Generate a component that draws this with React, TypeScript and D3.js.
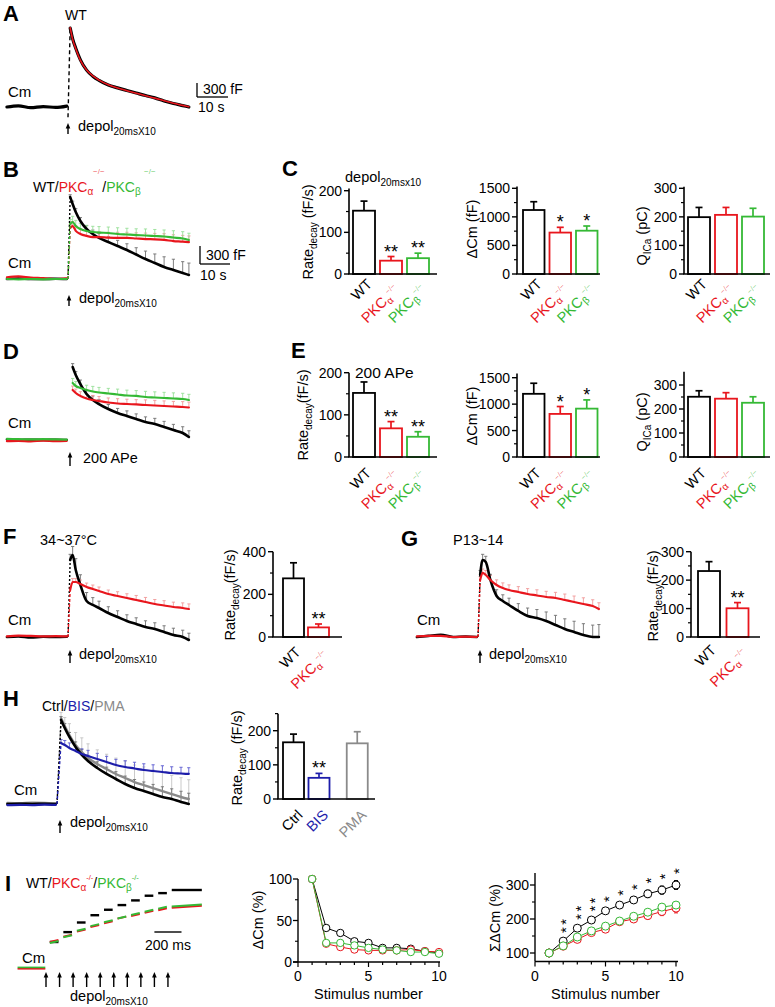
import React from "react";
import * as d3 from "d3";

const FONT = "'Liberation Sans', Arial, Helvetica, sans-serif";
const BLACK = "#000";
const RED = "#e8161d";
const GREEN = "#35b935";
const BLUE = "#1d1daa";
const GRAY = "#8a8a8a";
const ERR_BLACK = "#707070";
const ERR_RED = "#f09a9a";
const ERR_GREEN = "#98e098";
const ERR_GRAY = "#c4c4c4";
const ERR_BLUE = "#5a5ad0";

// ---------------- trace data (time in s, capacitance in fF) ----------------
const tBase = [-19.7, -16, -12, -8, -4, -0.4];
const tBaseH = [-16, -12, -8, -4, -0.4];
const tDec = [0.7, 1.5, 2.5, 4, 6, 8, 10, 13, 16, 19, 22, 25, 28, 31, 34, 37, 39];
const tDecD = [1.5, 2.5, 4, 6, 8, 10, 13, 16, 19, 22, 25, 28, 31, 34, 37, 39];
const tDecH = [1.3, 2.5, 4, 6, 8, 10, 13, 16, 19, 22, 25, 28, 31, 34, 37, 40, 42.5];

// A
const aBase = [0, 25, -15, 10, -10, 20];
const aWT = [1690, 1460, 1260, 1010, 790, 660, 570, 470, 410, 355, 300, 245, 195, 130, 75, 30, 0];
const aFit = [1700, 1450, 1250, 1000, 795, 665, 575, 475, 405, 350, 295, 240, 190, 135, 80, 35, 5];

// B
const bBaseWT = [0, 10, 0, 0, 5, 0];
const bBaseA = [30, 45, 25, 15, 0, 10];
const bBaseB = [0, -5, 0, -5, 0, 0];
const bWT = [1447, 1324, 1182, 1024, 882, 794, 724, 653, 582, 512, 432, 353, 282, 212, 159, 106, 71];
const bWTerr = [40, 50, 60, 60, 60, 70, 80, 90, 100, 110, 120, 140, 160, 180, 190, 200, 210];
const bA = [900, 935, 850, 795, 760, 740, 740, 730, 725, 725, 715, 705, 700, 690, 670, 660, 650];
const bAerr = [60, 80, 90, 90, 90, 90, 95, 95, 100, 100, 100, 105, 105, 110, 110, 110, 110];
const bB = [970, 1006, 935, 882, 847, 830, 820, 812, 794, 785, 776, 768, 759, 750, 732, 715, 688];
const bBerr = [80, 100, 100, 100, 100, 100, 105, 105, 110, 110, 110, 115, 115, 115, 120, 120, 120];

// D
const dBaseWT = [10, 0, 5, 0, 5, 0];
const dBaseA = [-20, -15, -25, -10, -20, -15];
const dBaseB = [20, 15, 10, 15, 10, 5];
const dWT = [1288, 1147, 988, 812, 706, 635, 547, 477, 424, 371, 318, 282, 229, 176, 124, 53];
const dWTerr = [60, 60, 70, 70, 70, 80, 80, 80, 90, 90, 90, 100, 100, 100, 110, 110];
const dA = [882, 829, 777, 732, 706, 688, 662, 644, 635, 627, 618, 609, 600, 591, 582, 574];
const dAerr = [70, 70, 75, 75, 80, 80, 80, 85, 85, 85, 90, 90, 90, 90, 95, 95];
const dB = [1006, 953, 918, 882, 856, 838, 821, 803, 785, 777, 759, 750, 741, 732, 724, 706];
const dBerr = [80, 80, 85, 85, 90, 90, 90, 95, 95, 95, 100, 100, 100, 100, 100, 100];

// F
const fBaseWT = [0, 10, -10, 5, 0, 5];
const fBaseA = [10, 25, 20, 10, 15, 10];
const fWT = [1359, 1447, 1183, 918, 635, 565, 512, 424, 353, 282, 229, 176, 141, 88, 35, 0, -53];
const fWTerr = [100, 150, 200, 180, 150, 130, 120, 110, 110, 110, 110, 110, 110, 110, 120, 120, 120];
const fA = [830, 971, 971, 935, 882, 847, 812, 759, 724, 688, 653, 618, 582, 556, 530, 512, 494];
const fAerr = [50, 60, 60, 70, 70, 70, 70, 70, 75, 75, 80, 80, 80, 85, 85, 90, 90];

// G
const gBaseWT = [0, 20, 40, 0, 10, 0];
const gBaseA = [10, 20, 20, 0, 5, 0];
const gWT = [1094, 1359, 1324, 1006, 724, 635, 565, 459, 371, 335, 282, 212, 141, 88, 35, 0, 0];
const gWTerr = [80, 100, 100, 100, 110, 110, 120, 130, 140, 150, 160, 170, 180, 190, 200, 210, 220];
const gA = [1006, 1130, 1094, 1006, 918, 865, 830, 794, 759, 733, 706, 688, 653, 618, 582, 547, 494];
const gAerr = [60, 70, 80, 80, 90, 90, 90, 95, 95, 100, 100, 100, 105, 105, 110, 110, 110];

// H
const hBaseCtrl = [0, 5, 0, 5, 0];
const hBaseBIS = [-20, -15, -20, -10, -15];
const hBasePMA = [20, 15, 25, 20, 10];
const hCtrl = [1483, 1341, 1183, 1006, 865, 759, 635, 530, 441, 353, 282, 229, 176, 124, 88, 35, 0];
const hCtrlErr = [60, 80, 80, 90, 100, 100, 110, 120, 130, 140, 150, 160, 170, 180, 180, 190, 190];
const hPMA = [1518, 1377, 1218, 1041, 918, 812, 706, 618, 530, 459, 388, 335, 282, 229, 176, 124, 88];
const hPMAerr = [100, 150, 200, 220, 250, 250, 250, 260, 280, 300, 300, 320, 320, 330, 330, 340, 340];
const hBIS = [1077, 1041, 988, 935, 882, 847, 794, 741, 688, 653, 627, 600, 582, 565, 547, 538, 530];
const hBISerr = [60, 80, 90, 90, 90, 100, 100, 100, 100, 110, 110, 110, 110, 110, 110, 110, 110];

// ---------------- bar data ----------------
type Lab = { text: string; color: string; sub?: string; sup?: string; wt?: boolean };
const genoLabels: Lab[] = [
  { text: "WT", color: BLACK, wt: true },
  { text: "PKC", sub: "α", sup: "−/−", color: RED },
  { text: "PKC", sub: "β", sup: "−/−", color: GREEN },
];
const genoColors = [BLACK, RED, GREEN];
const twoLabels: Lab[] = [
  { text: "WT", color: BLACK, wt: true },
  { text: "PKC", sub: "α", sup: "−/−", color: RED },
];
const twoColors = [BLACK, RED];
const drugLabels: Lab[] = [
  { text: "Ctrl", color: BLACK, wt: true },
  { text: "BIS", color: BLUE, wt: true },
  { text: "PMA", color: GRAY, wt: true },
];
const drugColors = [BLACK, BLUE, GRAY];

const cRate = [152, 32, 38];
const cRateErr = [23, 10, 12];
const cRateSig = ["", "**", "**"];
const cDcm = [1120, 725, 758];
const cDcmErr = [145, 92, 82];
const cDcmSig = ["", "*", "*"];
const cQ = [199, 207, 201];
const cQErr = [34, 26, 29];
const eRate = [152, 68, 48];
const eRateErr = [26, 16, 12];
const eRateSig = ["", "**", "**"];
const eDcm = [1195, 815, 915];
const eDcmErr = [200, 140, 165];
const eDcmSig = ["", "*", "*"];
const eQ = [251, 243, 226];
const eQErr = [25, 25, 25];
const noSig = ["", "", ""];
const fRate = [275, 45];
const fRateErr = [73, 16];
const fRateSig = ["", "**"];
const gRate = [232, 101];
const gRateErr = [33, 20];
const gRateSig = ["", "**"];
const hRate = [166, 62, 163];
const hRateErr = [24, 13, 34];
const hRateSig = ["", "**", ""];

const ticks200 = [0, 100, 200];
const minor200 = [50, 150];
const ticks1500 = [0, 500, 1000, 1500];
const minor1500 = [250, 750, 1250];
const ticks300 = [0, 100, 200, 300];
const minor300 = [50, 150, 250];
const ticks400 = [0, 200, 400];
const minor400 = [100, 300];
const minorH = [50, 150, 250];

// ---------------- panel I data ----------------
const stimNo = [1, 2, 3, 4, 5, 6, 7, 8, 9, 10];
const stimMs = [0, 100, 200, 300, 400, 500, 600, 700, 800, 900];
const iTraceWT = [100, 138, 175, 203, 224, 242, 260, 278, 288, 300];
const iTraceA = [100, 120, 140, 158, 172, 190, 200, 212, 222, 232];
const iTraceB = [100, 122, 147, 165, 180, 194, 208, 220, 232, 240];

const dcmWT = [100, 41, 35, 25, 23, 17, 17, 16, 13, 11];
const dcmA = [100, 22, 18, 15, 14, 14, 14, 15, 13, 12];
const dcmB = [100, 23, 23, 20, 17, 15, 14, 12, 12, 10];

const sumWT = [100, 135, 173, 197, 224, 241, 256, 274, 285, 300];
const sumWTerr = [0, 5, 6, 6, 7, 8, 10, 11, 12, 13];
const sumA = [100, 120, 140, 160, 170, 192, 200, 210, 222, 232];
const sumAerr = [0, 4, 5, 6, 7, 7, 9, 10, 12, 14];
const sumB = [100, 121, 147, 165, 179, 194, 208, 220, 235, 241];
const sumBerr = [0, 3, 4, 5, 5, 6, 7, 8, 9, 10];
const sumSig = ["", "**", "**", "**", "*", "*", "*", "*", "*", "*"];

// ---------------- helpers ----------------
type Scales = { x: d3.ScaleLinear<number, number>; y: d3.ScaleLinear<number, number> };

function traceScales(x0: number, baseY: number, pxPer300: number): Scales {
  const x = d3.scaleLinear().domain([0, 10]).range([x0, x0 + 31]);
  const y = d3.scaleLinear().domain([0, 300]).range([baseY, baseY - pxPer300]);
  return { x, y };
}

function pathOf(t: number[], v: number[], s: Scales) {
  const pts = t.map((tt, i) => [s.x(tt), s.y(v[i])] as [number, number]);
  return d3.line().curve(d3.curveMonotoneX)(pts) || "";
}

type TraceItem = {
  tb?: number[];
  vb?: number[];
  t: number[];
  v: number[];
  e?: number[];
  color: string;
  errColor?: string;
  w?: number;
  rise?: boolean;
  riseFrom?: number;
  riseDash?: string;
};

function TraceSet({ s, items }: { s: Scales; items: TraceItem[] }) {
  return (
    <g>
      {items.map((it, i) =>
        it.e ? (
          <g key={"e" + i} stroke={it.errColor} strokeWidth={0.9}>
            {it.t.map((tt, j) => {
              const px = s.x(tt);
              const y0 = s.y(it.v[j]);
              const y1 = s.y(it.v[j] + it.e![j]);
              return (
                <g key={j}>
                  <line x1={px} x2={px} y1={y0} y2={y1} />
                  <line x1={px - 1.6} x2={px + 1.6} y1={y1} y2={y1} />
                </g>
              );
            })}
          </g>
        ) : null
      )}
      {items.map((it, i) => (
        <g key={"l" + i} fill="none" stroke={it.color} strokeLinejoin="round" strokeLinecap="round">
          {it.tb && it.vb && <path d={pathOf(it.tb, it.vb, s)} strokeWidth={it.w ?? 2.4} />}
          {it.rise && (
            <line
              x1={s.x(0)}
              y1={s.y(it.riseFrom ?? 0)}
              x2={s.x(it.t[0])}
              y2={s.y(it.v[0])}
              strokeWidth={1.4}
              strokeDasharray={it.riseDash ?? "3,2"}
              strokeLinecap="butt"
            />
          )}
          <path d={pathOf(it.t, it.v, s)} strokeWidth={it.w ?? 2.4} />
        </g>
      ))}
    </g>
  );
}

function Arrow({ x, yb, yt }: { x: number; yb: number; yt: number }) {
  return (
    <g>
      <line x1={x} x2={x} y1={yb} y2={yt + 4} stroke="#000" strokeWidth={1.4} />
      <path d={`M${x - 2.3},${yt + 5.5} L${x},${yt} L${x + 2.3},${yt + 5.5} Z`} fill="#000" />
    </g>
  );
}

function Depol({ x, y, lower }: { x: number; y: number; lower?: boolean }) {
  return (
    <text x={x} y={y} fontSize={14.5}>
      depol
      <tspan fontSize={10} dy={4}>
        {lower ? "20msx10" : "20msX10"}
      </tspan>
    </text>
  );
}

function Letter({ x, y, c }: { x: number; y: number; c: string }) {
  return (
    <text x={x} y={y} fontSize={22} fontWeight="bold">
      {c}
    </text>
  );
}

function RotLabel({ lab, px, py }: { lab: Lab; px: number; py: number }) {
  return (
    <text transform={`translate(${px},${py}) rotate(-45)`} textAnchor="end" fontSize={14.5} fill={lab.color}>
      {lab.text}
      {lab.sub && (
        <tspan fontSize={10} dy={3}>
          {lab.sub}
        </tspan>
      )}
      {lab.sup && (
        <tspan fontSize={7.5} dy={-9} fillOpacity={0.7}>
          {lab.sup}
        </tspan>
      )}
    </text>
  );
}

type BarProps = {
  axisX: number;
  axisY: number;
  topVal: number;
  topPx: number;
  axisMax: number;
  ticks: number[];
  minor: number[];
  barStart: number;
  step: number;
  barW: number;
  slots: number[];
  xEnd: number;
  values: number[];
  errors: number[];
  colors: string[];
  sig: string[];
  labels: Lab[];
  yLabel: React.ReactNode;
  yLabelX: number;
  yLabelY: number;
  wDx: number;
  wDy: number;
  kDx: number;
  kDy: number;
};

function BarChart(p: BarProps) {
  const y = d3.scaleLinear().domain([0, p.topVal]).range([p.axisY, p.topPx]);
  const xs = d3.scaleLinear().domain([0, 1]).range([p.barStart, p.barStart + p.step]);
  return (
    <g>
      {p.values.map((v, i) => {
        const x0 = xs(p.slots[i]);
        const cx = x0 + p.barW / 2;
        const top = y(v);
        const et = y(v + p.errors[i]);
        const lab = p.labels[i];
        return (
          <g key={i}>
            <line x1={cx} x2={cx} y1={top} y2={et} stroke={p.colors[i]} strokeWidth={1.7} />
            <line x1={cx - 3.5} x2={cx + 3.5} y1={et} y2={et} stroke={p.colors[i]} strokeWidth={1.7} />
            <rect x={x0} y={top} width={p.barW} height={p.axisY - top} fill="#fff" stroke={p.colors[i]} strokeWidth={1.8} />
            {p.sig[i] && (
              <text x={cx} y={et + 1} textAnchor="middle" fontSize={18}>
                {p.sig[i]}
              </text>
            )}
            <RotLabel
              lab={lab}
              px={cx + (lab.wt ? p.wDx : p.kDx)}
              py={p.axisY + (lab.wt ? p.wDy : p.kDy)}
            />
          </g>
        );
      })}
      <line x1={p.axisX} x2={p.axisX} y1={p.axisY} y2={y(p.axisMax)} stroke="#000" strokeWidth={1.6} />
      <line x1={p.axisX - 0.8} x2={p.xEnd} y1={p.axisY} y2={p.axisY} stroke="#000" strokeWidth={1.6} />
      {p.ticks.map((t) => (
        <g key={t}>
          <line x1={p.axisX - 5} x2={p.axisX} y1={y(t)} y2={y(t)} stroke="#000" strokeWidth={1.4} />
          <text x={p.axisX - 7} y={y(t)} dy="0.36em" textAnchor="end" fontSize={14}>
            {t}
          </text>
        </g>
      ))}
      {p.minor.map((t) => (
        <line key={"m" + t} x1={p.axisX - 3} x2={p.axisX} y1={y(t)} y2={y(t)} stroke="#000" strokeWidth={1.2} />
      ))}
      <text transform={`translate(${p.yLabelX},${p.yLabelY}) rotate(-90)`} textAnchor="middle" fontSize={14.5}>
        {p.yLabel}
      </text>
    </g>
  );
}

const RateLabel = ({ space = true }: { space?: boolean }) => (
  <>
    Rate
    <tspan fontSize={10} dy={4}>
      decay
    </tspan>
    <tspan dy={-4}>{space ? " (fF/s)" : "(fF/s)"}</tspan>
  </>
);
const DcmLabel = () => <>ΔCm (fF)</>;
const QLabel = () => (
  <>
    Q
    <tspan fontSize={10} dy={4}>
      ICa
    </tspan>
    <tspan dy={-4}> (pC)</tspan>
  </>
);

export default function App() {
  const sA = traceScales(68, 107, 14);
  const sB = traceScales(68, 279, 17);
  const sD = traceScales(68, 440, 17);
  const sF = traceScales(68, 637, 17);
  const sG = traceScales(478, 637, 17);
  const sH = traceScales(57, 804, 17);

  // Panel I scales
  const iX = d3.scaleLinear().domain([0, 1000]).range([46, 181.5]);
  const iY = d3.scaleLinear().domain([0, 100]).range([968, 942]);
  const m1x = d3.scaleLinear().domain([0, 10]).range([298, 439]);
  const m1y = d3.scaleLinear().domain([0, 100]).range([962, 879]);
  const m2x = d3.scaleLinear().domain([0, 10]).range([535, 676]);
  const m2y = d3.scaleLinear().domain([100, 300]).range([953, 885]);

  const segs = (lev: number[]) =>
    stimMs.map((ms, i) => ({
      x1: iX(ms + 28),
      x2: iX(i === stimMs.length - 1 ? ms + 250 : ms + 92),
      y: iY(lev[i]),
    }));

  const seriesLine = (xs: d3.ScaleLinear<number, number>, ys: d3.ScaleLinear<number, number>, v: number[]) =>
    d3.line<number>().x((_, i) => xs(stimNo[i])).y((d) => ys(d))(v) || "";

  const intTicks = d3.range(0, 11);

  return (
    <svg
      width={775}
      height={1007}
      style={{ position: "absolute", left: 0, top: 0, background: "#fff" }}
      fontFamily={FONT}
    >
      <rect x={0} y={0} width={775} height={1007} fill="#fff" />

      {/* ================= A ================= */}
      <Letter x={3} y={21} c="A" />
      <text x={65} y={20} fontSize={14}>WT</text>
      <text x={8} y={97} fontSize={15}>Cm</text>
      <TraceSet
        s={sA}
        items={[
          { tb: tBase, vb: aBase, t: tDec, v: aWT, color: BLACK, w: 3.2, rise: true, riseFrom: -220, riseDash: "4,3" },
          { t: tDec, v: aFit, color: RED, w: 1.6 },
        ]}
      />
      <line x1={197} x2={197} y1={83} y2={97} stroke="#000" strokeWidth={1.3} />
      <line x1={197} x2={228} y1={97} y2={97} stroke="#000" strokeWidth={1.3} />
      <text x={203} y={94} fontSize={14}>300 fF</text>
      <text x={198} y={112} fontSize={14}>10 s</text>
      <Arrow x={68} yb={134} yt={123} />
      <Depol x={78} y={131} />

      {/* ================= B ================= */}
      <Letter x={3} y={177} c="B" />
      <text x={33} y={192} fontSize={14}>
        WT/<tspan fill={RED}>PKC</tspan>
        <tspan fill={RED} fontSize={10} dy={3}>α</tspan>
        <tspan dy={-3} dx={9}>/</tspan>
        <tspan fill={GREEN}>PKC</tspan>
        <tspan fill={GREEN} fontSize={10} dy={3}>β</tspan>
      </text>
      <text x={93} y={174} fontSize={8} fill={RED} fillOpacity={0.7}>−/−</text>
      <text x={144} y={174} fontSize={8} fill={GREEN} fillOpacity={0.7}>−/−</text>
      <text x={8} y={268} fontSize={15}>Cm</text>
      <TraceSet
        s={sB}
        items={[
          { tb: tBase, vb: bBaseWT, t: tDec, v: bWT, e: bWTerr, color: BLACK, errColor: ERR_BLACK, w: 2.6, rise: true, riseDash: "2,2" },
          { tb: tBase, vb: bBaseA, t: tDec, v: bA, e: bAerr, color: RED, errColor: ERR_RED, w: 2.2, rise: true },
          { tb: tBase, vb: bBaseB, t: tDec, v: bB, e: bBerr, color: GREEN, errColor: ERR_GREEN, w: 2.2, rise: true },
        ]}
      />
      <line x1={200} x2={200} y1={246} y2={264} stroke="#000" strokeWidth={1.3} />
      <line x1={200} x2={230} y1={264} y2={264} stroke="#000" strokeWidth={1.3} />
      <text x={206} y={260} fontSize={14}>300 fF</text>
      <text x={200} y={280} fontSize={14}>10 s</text>
      <Arrow x={69} yb={306} yt={295} />
      <Depol x={79} y={303} />

      {/* ================= C ================= */}
      <Letter x={282} y={176} c="C" />
      <Depol x={345} y={182} lower />
      <BarChart
        axisX={349} axisY={274} topVal={200} topPx={190.7} axisMax={205}
        ticks={ticks200} minor={minor200}
        barStart={353} step={27} barW={22} slots={[0, 1, 2]} xEnd={437}
        values={cRate} errors={cRateErr} colors={genoColors} sig={cRateSig} labels={genoLabels}
        yLabel={<RateLabel />} yLabelX={313} yLabelY={232}
        wDx={9} wDy={11} kDx={9} kDy={17}
      />
      <BarChart
        axisX={517} axisY={274} topVal={1500} topPx={188.3} axisMax={1530}
        ticks={ticks1500} minor={minor1500}
        barStart={523} step={26.5} barW={21.5} slots={[0, 1, 2]} xEnd={600}
        values={cDcm} errors={cDcmErr} colors={genoColors} sig={cDcmSig} labels={genoLabels}
        yLabel={<DcmLabel />} yLabelX={477} yLabelY={229}
        wDx={9} wDy={11} kDx={9} kDy={17}
      />
      <BarChart
        axisX={684} axisY={274} topVal={300} topPx={188.3} axisMax={305}
        ticks={ticks300} minor={minor300}
        barStart={688} step={27} barW={22} slots={[0, 1, 2]} xEnd={770}
        values={cQ} errors={cQErr} colors={genoColors} sig={noSig} labels={genoLabels}
        yLabel={<QLabel />} yLabelX={647} yLabelY={236}
        wDx={9} wDy={11} kDx={9} kDy={17}
      />

      {/* ================= D ================= */}
      <Letter x={3} y={359} c="D" />
      <text x={8} y={428} fontSize={15}>Cm</text>
      <TraceSet
        s={sD}
        items={[
          { tb: tBase, vb: dBaseWT, t: tDecD, v: dWT, e: dWTerr, color: BLACK, errColor: ERR_BLACK, w: 2.6 },
          { tb: tBase, vb: dBaseA, t: tDecD, v: dA, e: dAerr, color: RED, errColor: ERR_RED, w: 2.2 },
          { tb: tBase, vb: dBaseB, t: tDecD, v: dB, e: dBerr, color: GREEN, errColor: ERR_GREEN, w: 2.2 },
        ]}
      />
      <Arrow x={70} yb={466} yt={452} />
      <text x={83} y={463} fontSize={14.5}>200 APe</text>

      {/* ================= E ================= */}
      <Letter x={291} y={358} c="E" />
      <text x={355} y={378} fontSize={15.5}>200 APe</text>
      <BarChart
        axisX={349} axisY={457} topVal={200} topPx={372.7} axisMax={200}
        ticks={ticks200} minor={minor200}
        barStart={353} step={27} barW={22} slots={[0, 1, 2]} xEnd={437}
        values={eRate} errors={eRateErr} colors={genoColors} sig={eRateSig} labels={genoLabels}
        yLabel={<RateLabel space={false} />} yLabelX={308} yLabelY={415}
        wDx={8} wDy={17} kDx={9} kDy={20}
      />
      <BarChart
        axisX={517} axisY={457} topVal={1500} topPx={377.7} axisMax={1580}
        ticks={ticks1500} minor={minor1500}
        barStart={523} step={26.5} barW={21.5} slots={[0, 1, 2]} xEnd={600}
        values={eDcm} errors={eDcmErr} colors={genoColors} sig={eDcmSig} labels={genoLabels}
        yLabel={<DcmLabel />} yLabelX={477} yLabelY={416}
        wDx={8} wDy={17} kDx={9} kDy={20}
      />
      <BarChart
        axisX={684} axisY={457} topVal={300} topPx={385} axisMax={355}
        ticks={ticks300} minor={minor300}
        barStart={688} step={27} barW={22} slots={[0, 1, 2]} xEnd={770}
        values={eQ} errors={eQErr} colors={genoColors} sig={noSig} labels={genoLabels}
        yLabel={<QLabel />} yLabelX={647} yLabelY={422}
        wDx={8} wDy={17} kDx={9} kDy={20}
      />

      {/* ================= F ================= */}
      <Letter x={3} y={544} c="F" />
      <text x={40} y={545} fontSize={14.5}>34~37°C</text>
      <text x={8} y={625} fontSize={15}>Cm</text>
      <TraceSet
        s={sF}
        items={[
          { tb: tBase, vb: fBaseWT, t: tDec, v: fWT, e: fWTerr, color: BLACK, errColor: ERR_BLACK, w: 2.6, rise: true, riseDash: "2,2" },
          { tb: tBase, vb: fBaseA, t: tDec, v: fA, e: fAerr, color: RED, errColor: ERR_RED, w: 2.2, rise: true },
        ]}
      />
      <Arrow x={70} yb={663} yt={650} />
      <Depol x={79} y={659} />
      <BarChart
        axisX={273} axisY={637} topVal={400} topPx={551.7} axisMax={400}
        ticks={ticks400} minor={minor400}
        barStart={283} step={25} barW={21} slots={[0, 1]} xEnd={342}
        values={fRate} errors={fRateErr} colors={twoColors} sig={fRateSig} labels={twoLabels}
        yLabel={<RateLabel space={false} />} yLabelX={235} yLabelY={595}
        wDx={8} wDy={16} kDx={11} kDy={20}
      />

      {/* ================= G ================= */}
      <Letter x={401} y={546} c="G" />
      <text x={453} y={545} fontSize={14.5}>P13~14</text>
      <text x={417} y={625} fontSize={15}>Cm</text>
      <TraceSet
        s={sG}
        items={[
          { tb: tBase, vb: gBaseWT, t: tDec, v: gWT, e: gWTerr, color: BLACK, errColor: ERR_BLACK, w: 2.6, rise: true, riseDash: "2,2" },
          { tb: tBase, vb: gBaseA, t: tDec, v: gA, e: gAerr, color: RED, errColor: ERR_RED, w: 2.2, rise: true },
        ]}
      />
      <Arrow x={480} yb={663} yt={650} />
      <Depol x={489} y={659} />
      <BarChart
        axisX={691} axisY={637} topVal={300} topPx={551.7} axisMax={300}
        ticks={ticks300} minor={minor300}
        barStart={698} step={28.5} barW={22} slots={[0, 1]} xEnd={760}
        values={gRate} errors={gRateErr} colors={twoColors} sig={gRateSig} labels={twoLabels}
        yLabel={<RateLabel space={false} />} yLabelX={658} yLabelY={596}
        wDx={8} wDy={14} kDx={11} kDy={18}
      />

      {/* ================= H ================= */}
      <Letter x={3} y={706} c="H" />
      <text x={42} y={711} fontSize={14}>
        Ctrl/<tspan fill={BLUE}>BIS</tspan>/<tspan fill={GRAY}>PMA</tspan>
      </text>
      <text x={14} y={795} fontSize={15}>Cm</text>
      <TraceSet
        s={sH}
        items={[
          { tb: tBaseH, vb: hBasePMA, t: tDecH, v: hPMA, e: hPMAerr, color: GRAY, errColor: ERR_GRAY, w: 2.4, rise: true },
          { tb: tBaseH, vb: hBaseCtrl, t: tDecH, v: hCtrl, e: hCtrlErr, color: BLACK, errColor: ERR_BLACK, w: 2.6, rise: true, riseDash: "2,2" },
          { tb: tBaseH, vb: hBaseBIS, t: tDecH, v: hBIS, e: hBISerr, color: BLUE, errColor: ERR_BLUE, w: 2.2, rise: true },
        ]}
      />
      <Arrow x={60} yb={833} yt={820} />
      <Depol x={70} y={827} />
      <BarChart
        axisX={278} axisY={799} topVal={200} topPx={730.7} axisMax={250}
        ticks={ticks200} minor={minorH}
        barStart={283} step={25.5} barW={21} slots={[0, 1, 2.5]} xEnd={375}
        values={hRate} errors={hRateErr} colors={drugColors} sig={hRateSig} labels={drugLabels}
        yLabel={<RateLabel />} yLabelX={242} yLabelY={758}
        wDx={10} wDy={17} kDx={10} kDy={17}
      />

      {/* ================= I ================= */}
      <Letter x={5} y={891} c="I" />
      <text x={26} y={888} fontSize={14}>
        WT/<tspan fill={RED}>PKC</tspan>
        <tspan fill={RED} fontSize={10} dy={3}>α</tspan>
        <tspan fill={RED} fontSize={7.5} dy={-11}>-/-</tspan>
        <tspan dy={8}>/</tspan>
        <tspan fill={GREEN}>PKC</tspan>
        <tspan fill={GREEN} fontSize={10} dy={3}>β</tspan>
        <tspan fill={GREEN} fontSize={7.5} dy={-11}>-/-</tspan>
      </text>
      {/* traces */}
      <line x1={iX(-210)} x2={iX(-5)} y1={iY(0) + 0.8} y2={iY(0) + 0.8} stroke={RED} strokeWidth={1.6} />
      <line x1={iX(-210)} x2={iX(-5)} y1={iY(0) - 0.6} y2={iY(0) - 0.6} stroke={GREEN} strokeWidth={1.6} />
      {segs(iTraceWT).map((s, i) => (
        <line key={"w" + i} x1={s.x1} x2={s.x2} y1={s.y} y2={s.y} stroke={BLACK} strokeWidth={2.4} />
      ))}
      {segs(iTraceA).map((s, i) => (
        <line key={"a" + i} x1={s.x1} x2={s.x2} y1={s.y} y2={s.y - 2} stroke={RED} strokeWidth={2} />
      ))}
      {segs(iTraceB).map((s, i) => (
        <line key={"b" + i} x1={s.x1} x2={s.x2} y1={s.y + 1} y2={s.y - 1} stroke={GREEN} strokeWidth={2} />
      ))}
      <line x1={iX(800)} x2={iX(1000)} y1={932} y2={932} stroke="#000" strokeWidth={1.4} />
      <text x={iX(900)} y={950} fontSize={14} textAnchor="middle">200 ms</text>
      <text x={22} y={963} fontSize={15}>Cm</text>
      {stimMs.map((ms) => (
        <Arrow key={ms} x={iX(ms)} yb={987} yt={972} />
      ))}
      <Depol x={70} y={1001} />

      {/* I middle: ΔCm (%) */}
      <g>
        <path d={seriesLine(m1x, m1y, dcmWT)} fill="none" stroke={BLACK} strokeWidth={1} />
        <path d={seriesLine(m1x, m1y, dcmA)} fill="none" stroke={RED} strokeWidth={1} />
        <path d={seriesLine(m1x, m1y, dcmB)} fill="none" stroke={GREEN} strokeWidth={1} />
        {dcmWT.map((v, i) => (
          <circle key={"k" + i} cx={m1x(stimNo[i])} cy={m1y(v)} r={3.7} fill="#fff" stroke={BLACK} strokeWidth={1} />
        ))}
        {dcmA.map((v, i) => (
          <circle key={"r" + i} cx={m1x(stimNo[i])} cy={m1y(v)} r={3.7} fill="#fff" stroke={RED} strokeWidth={1} />
        ))}
        {dcmB.map((v, i) => (
          <circle key={"g" + i} cx={m1x(stimNo[i])} cy={m1y(v)} r={3.7} fill="#fff" stroke={GREEN} strokeWidth={1} />
        ))}
        <line x1={m1x(0)} x2={m1x(0)} y1={m1y(0)} y2={m1y(100)} stroke="#000" strokeWidth={1.4} />
        <line x1={m1x(0) - 5} x2={m1x(10) + 1} y1={m1y(0)} y2={m1y(0)} stroke="#000" strokeWidth={1.4} />
        {[0, 50, 100].map((t) => (
          <g key={t}>
            <line x1={m1x(0) - 5} x2={m1x(0)} y1={m1y(t)} y2={m1y(t)} stroke="#000" strokeWidth={1.3} />
            <text x={m1x(0) - 6} y={m1y(t)} dy="0.36em" textAnchor="end" fontSize={14}>{t}</text>
          </g>
        ))}
        {[25, 75].map((t) => (
          <line key={t} x1={m1x(0) - 3} x2={m1x(0)} y1={m1y(t)} y2={m1y(t)} stroke="#000" strokeWidth={1.1} />
        ))}
        {intTicks.map((t) => (
          <line key={"x" + t} x1={m1x(t)} x2={m1x(t)} y1={m1y(0)} y2={m1y(0) + (t % 5 === 0 ? 5 : 3)} stroke="#000" strokeWidth={1.2} />
        ))}
        {[0, 5, 10].map((t) => (
          <text key={"xl" + t} x={m1x(t)} y={981} textAnchor="middle" fontSize={14}>{t}</text>
        ))}
        <text x={m1x(5)} y={999} textAnchor="middle" fontSize={14.5}>Stimulus number</text>
        <text transform={`translate(263,920) rotate(-90)`} textAnchor="middle" fontSize={14.5}>ΔCm (%)</text>
      </g>

      {/* I right: ΣΔCm (%) */}
      <g>
        {sumWT.map((v, i) => (
          <g key={"ew" + i} stroke={BLACK} strokeWidth={1}>
            <line x1={m2x(stimNo[i])} x2={m2x(stimNo[i])} y1={m2y(v - sumWTerr[i])} y2={m2y(v + sumWTerr[i])} />
            <line x1={m2x(stimNo[i]) - 2} x2={m2x(stimNo[i]) + 2} y1={m2y(v + sumWTerr[i])} y2={m2y(v + sumWTerr[i])} />
            <line x1={m2x(stimNo[i]) - 2} x2={m2x(stimNo[i]) + 2} y1={m2y(v - sumWTerr[i])} y2={m2y(v - sumWTerr[i])} />
          </g>
        ))}
        {sumA.map((v, i) => (
          <g key={"ea" + i} stroke={RED} strokeWidth={1}>
            <line x1={m2x(stimNo[i])} x2={m2x(stimNo[i])} y1={m2y(v)} y2={m2y(v - sumAerr[i])} />
            <line x1={m2x(stimNo[i]) - 2} x2={m2x(stimNo[i]) + 2} y1={m2y(v - sumAerr[i])} y2={m2y(v - sumAerr[i])} />
          </g>
        ))}
        {sumB.map((v, i) => (
          <g key={"eb" + i} stroke={GREEN} strokeWidth={1}>
            <line x1={m2x(stimNo[i])} x2={m2x(stimNo[i])} y1={m2y(v)} y2={m2y(v + sumBerr[i])} />
            <line x1={m2x(stimNo[i]) - 2} x2={m2x(stimNo[i]) + 2} y1={m2y(v + sumBerr[i])} y2={m2y(v + sumBerr[i])} />
          </g>
        ))}
        <path d={seriesLine(m2x, m2y, sumWT)} fill="none" stroke={BLACK} strokeWidth={1} />
        <path d={seriesLine(m2x, m2y, sumA)} fill="none" stroke={RED} strokeWidth={1} />
        <path d={seriesLine(m2x, m2y, sumB)} fill="none" stroke={GREEN} strokeWidth={1} />
        {sumWT.map((v, i) => (
          <circle key={"k" + i} cx={m2x(stimNo[i])} cy={m2y(v)} r={4} fill="#fff" stroke={BLACK} strokeWidth={1} />
        ))}
        {sumA.map((v, i) => (
          <circle key={"r" + i} cx={m2x(stimNo[i])} cy={m2y(v)} r={4} fill="#fff" stroke={RED} strokeWidth={1} />
        ))}
        {sumB.map((v, i) => (
          <circle key={"g" + i} cx={m2x(stimNo[i])} cy={m2y(v)} r={4} fill="#fff" stroke={GREEN} strokeWidth={1} />
        ))}
        {sumSig.map((s, i) =>
          s ? (
            <text
              key={"s" + i}
              transform={`translate(${m2x(stimNo[i]) + 8.2},${m2y(sumWT[i] + sumWTerr[i]) - 6.5}) rotate(-90)`}
              fontSize={15}
              letterSpacing={2.2}
            >
              {s}
            </text>
          ) : null
        )}
        <line x1={m2x(0)} x2={m2x(0)} y1={m2y(75)} y2={m2y(335)} stroke="#000" strokeWidth={1.4} />
        <line x1={m2x(0)} x2={m2x(10) + 2} y1={m2y(75)} y2={m2y(75)} stroke="#000" strokeWidth={1.4} />
        {[100, 200, 300].map((t) => (
          <g key={t}>
            <line x1={m2x(0) - 5} x2={m2x(0)} y1={m2y(t)} y2={m2y(t)} stroke="#000" strokeWidth={1.3} />
            <text x={m2x(0) - 6} y={m2y(t)} dy="0.36em" textAnchor="end" fontSize={14}>{t}</text>
          </g>
        ))}
        {[150, 250].map((t) => (
          <line key={t} x1={m2x(0) - 3} x2={m2x(0)} y1={m2y(t)} y2={m2y(t)} stroke="#000" strokeWidth={1.1} />
        ))}
        {intTicks.map((t) => (
          <line key={"x" + t} x1={m2x(t)} x2={m2x(t)} y1={m2y(75)} y2={m2y(75) + (t % 5 === 0 ? 5 : 3)} stroke="#000" strokeWidth={1.2} />
        ))}
        {[0, 5, 10].map((t) => (
          <text key={"xl" + t} x={m2x(t)} y={981} textAnchor="middle" fontSize={14}>{t}</text>
        ))}
        <text x={m2x(5)} y={999} textAnchor="middle" fontSize={14.5}>Stimulus number</text>
        <text transform={`translate(500,918) rotate(-90)`} textAnchor="middle" fontSize={14.5}>ΣΔCm (%)</text>
      </g>
    </svg>
  );
}
